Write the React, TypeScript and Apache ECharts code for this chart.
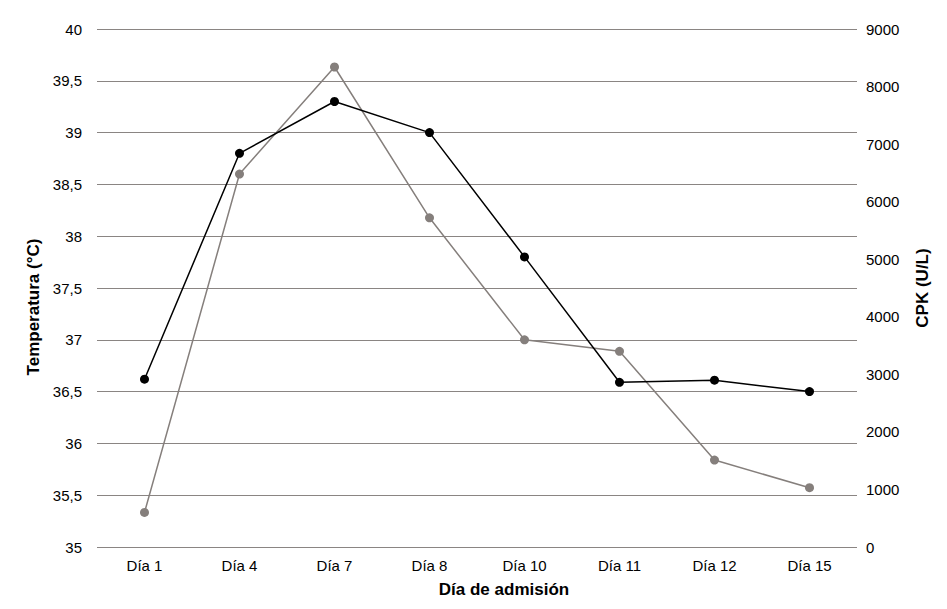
import React, { useEffect, useRef } from "react";
import * as echarts from "echarts";

const categories = ["Día 1", "Día 4", "Día 7", "Día 8", "Día 10", "Día 11", "Día 12", "Día 15"];
const temperatura = [36.62, 38.8, 39.3, 39.0, 37.8, 36.59, 36.61, 36.5];
const cpk = [600, 6480, 8340, 5720, 3600, 3400, 1510, 1030];
const tempTicks = { min: 35, max: 40, interval: 0.5 };
const cpkTicks = { min: 0, max: 9000, interval: 1000 };

export default function App() {
  const ref = useRef<HTMLDivElement>(null);
  useEffect(() => {
    if (!ref.current) return;
    const chart = echarts.init(ref.current, null, { renderer: "svg" });
    const font = "'Liberation Sans', Arial, sans-serif";
    const nameStyle = { color: "#000", fontSize: 17, fontWeight: "bold", fontFamily: font };
    chart.setOption({
      animation: false,
      textStyle: { fontFamily: font },
      grid: { left: 97, right: 90, top: 29, bottom: 62, containLabel: false },
      xAxis: {
        type: "category",
        data: categories,
        boundaryGap: true,
        axisLine: { show: false },
        axisTick: { show: false },
        axisLabel: { color: "#000", fontSize: 15, margin: 11, fontFamily: font },
        name: "Día de admisión",
        nameLocation: "middle",
        nameGap: 34,
        nameTextStyle: { ...nameStyle, padding: [0, 0, 0, 54] },
      },
      yAxis: [
        {
          type: "value",
          ...tempTicks,
          position: "left",
          axisLine: { show: false },
          axisTick: { show: false },
          axisLabel: {
            color: "#000",
            fontSize: 15,
            margin: 15,
            fontFamily: font,
            formatter: (v: number) => String(v).replace(".", ","),
          },
          splitLine: { show: true, lineStyle: { color: "#8a8583", width: 1 } },
          name: "Temperatura (°C)",
          nameLocation: "middle",
          nameGap: 53,
          nameRotate: 90,
          nameTextStyle: { ...nameStyle, padding: [0, 38, 0, 0] },
        },
        {
          type: "value",
          ...cpkTicks,
          position: "right",
          axisLine: { show: false },
          axisTick: { show: false },
          axisLabel: {
            color: "#000",
            fontSize: 15,
            margin: 9,
            fontFamily: font,
            formatter: (v: number) => String(v),
          },
          splitLine: { show: false },
          name: "CPK (U/L)",
          nameLocation: "middle",
          nameGap: 57,
          nameRotate: 90,
          nameTextStyle: nameStyle,
        },
      ],
      series: [
        {
          name: "CPK",
          type: "line",
          yAxisIndex: 1,
          data: cpk,
          symbol: "circle",
          symbolSize: 9,
          lineStyle: { color: "#857f7c", width: 1.5 },
          itemStyle: { color: "#857f7c" },
        },
        {
          name: "Temperatura",
          type: "line",
          yAxisIndex: 0,
          data: temperatura,
          symbol: "circle",
          symbolSize: 9,
          lineStyle: { color: "#000", width: 1.5 },
          itemStyle: { color: "#000" },
        },
      ],
    });
    return () => chart.dispose();
  }, []);
  return <div ref={ref} style={{ width: 947, height: 609, position: "absolute", left: 0, top: 0 }} />;
}
